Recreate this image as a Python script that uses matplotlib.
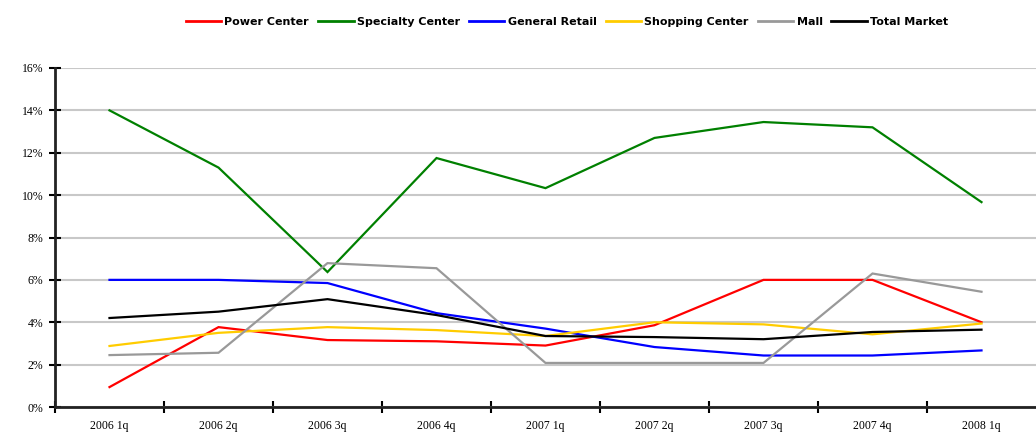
import matplotlib
matplotlib.use("Agg")
import matplotlib.pyplot as plt
from matplotlib.ticker import FuncFormatter

quarters = ["2006 1q", "2006 2q", "2006 3q", "2006 4q", "2007 1q",
            "2007 2q", "2007 3q", "2007 4q", "2008 1q"]
power_center = [0.94, 3.77, 3.16, 3.1, 2.9, 3.86, 6.0, 6.0, 4.0]
specialty_center = [14.0, 11.3, 6.37, 11.75, 10.33, 12.7, 13.45, 13.2, 9.67]
general_retail = [6.0, 6.0, 5.85, 4.43, 3.7, 2.83, 2.43, 2.43, 2.67]
shopping_center = [2.88, 3.5, 3.77, 3.63, 3.35, 4.0, 3.9, 3.43, 3.94]
mall = [2.45, 2.56, 6.79, 6.55, 2.08, 2.08, 2.08, 6.3, 5.44]
total_market = [4.2, 4.5, 5.09, 4.34, 3.35, 3.3, 3.2, 3.54, 3.65]

series = [
    ("Power Center", power_center, "#ff0000"),
    ("Specialty Center", specialty_center, "#008000"),
    ("General Retail", general_retail, "#0000ff"),
    ("Shopping Center", shopping_center, "#ffcc00"),
    ("Mall", mall, "#999999"),
    ("Total Market", total_market, "#000000"),
]

fig = plt.figure(figsize=(10.36, 4.38), dpi=100)
ax = fig.add_axes([55/1036, 1-407/438, 981/1036, (407-68)/438])

x = [i + 0.5 for i in range(len(quarters))]
for name, vals, col in series:
    ax.plot(x, vals, color=col, lw=1.6, label=name, solid_joinstyle="miter")

ax.set_xlim(0, len(quarters))
ax.set_ylim(0, 16)
ax.set_yticks(range(0, 17, 2))
ax.yaxis.set_major_formatter(FuncFormatter(lambda v, p: f"{int(v)}%"))
ax.grid(axis="y", color="#c8c8c8", lw=1.5)
ax.set_axisbelow(True)

ax.set_xticks(range(0, len(quarters)))
ax.set_xticklabels([])
ax.set_xticks(x, minor=True)
ax.set_xticklabels(quarters, minor=True, family="Liberation Serif", fontsize=8.5)
ax.tick_params(axis="x", which="major", direction="inout", length=9, width=1.5)
ax.tick_params(axis="x", which="minor", length=0, pad=9)
ax.tick_params(axis="y", direction="inout", length=9, width=1.5, pad=4)
for lab in ax.get_yticklabels():
    lab.set_family("Liberation Serif")
    lab.set_fontsize(8.5)

for s in ["top", "right"]:
    ax.spines[s].set_visible(False)
for s in ["left", "bottom"]:
    ax.spines[s].set_linewidth(2)
    ax.spines[s].set_color("#222222")

leg = fig.legend(loc="center", bbox_to_anchor=(567/1036, 1-22/438), ncol=6,
                 frameon=False, handlelength=3.2, handletextpad=0.3,
                 columnspacing=0.8,
                 prop={"family": ["Liberation Sans Narrow", "DejaVu Sans"],
                       "weight": "bold", "size": 8})
for lh in leg.get_lines():
    lh.set_linewidth(2)

fig.savefig("out.png", dpi=100)
